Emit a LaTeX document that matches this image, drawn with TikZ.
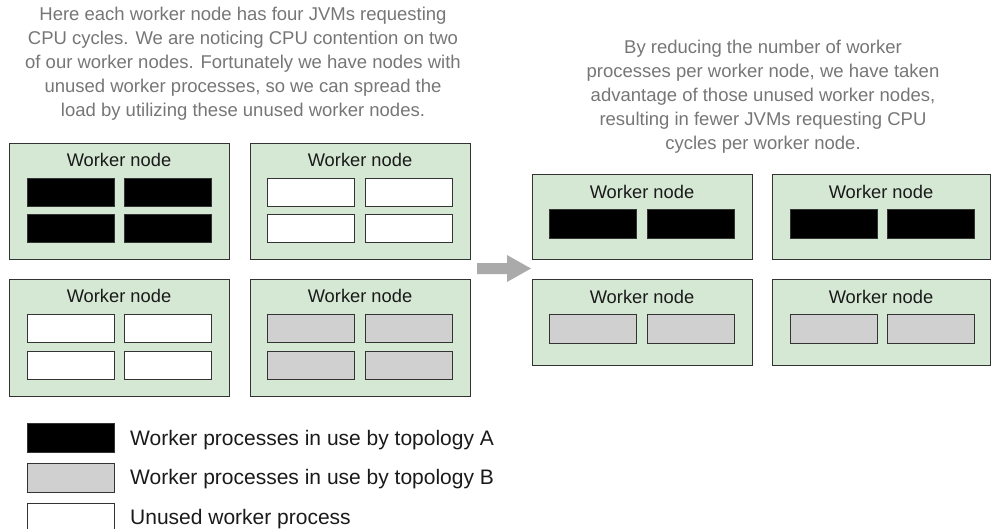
\documentclass[tikz,border=0pt]{standalone}
\usepackage{fontspec}
\setmainfont{Liberation Sans}
\usetikzlibrary{calc}
\definecolor{nodegreen}{HTML}{D5E8D4}
\definecolor{procgray}{HTML}{D0D0D0}
\definecolor{notegray}{HTML}{767676}
\definecolor{arrowgray}{HTML}{AAAAAA}
\definecolor{inkdark}{HTML}{1A1A1A}
\begin{document}
\begin{tikzpicture}[x=1pt,y=-1pt,
  wnode/.style={draw=black!80, fill=nodegreen, line width=1pt, anchor=north west, inner sep=0pt, outer sep=0pt, minimum width=220, minimum height=116},
  wlabel/.style={anchor=base, inner sep=0pt, text=inkdark, font=\fontsize{18.3}{22}\selectfont},
  proc/.style={draw=black!80, line width=1pt, anchor=north west, inner sep=0pt, outer sep=0pt, minimum width=87, minimum height=28.5},
  procA/.style={proc, fill=black},
  procB/.style={proc, fill=procgray},
  procU/.style={proc, fill=white},
  note/.style={anchor=north, inner sep=0pt, align=center, text=notegray, font=\fontsize{18.5}{24}\selectfont},
  legtext/.style={anchor=base west, inner sep=0pt, text=inkdark, font=\fontsize{21}{25}\selectfont}
]
\useasboundingbox (0,0) rectangle (991,528);

% notes
\node[note] (noteL) at (243,7.3) {Here each worker node has four JVMs requesting\\CPU cycles. We are noticing CPU contention on two\\of our worker nodes. Fortunately we have nodes with\\unused worker processes, so we can spread the\\load by utilizing these unused worker nodes.};
\node[note] (noteR) at (763,39.6) {By reducing the number of worker\\processes per worker node, we have taken\\advantage of those unused worker nodes,\\resulting in fewer JVMs requesting CPU\\cycles per worker node.};

% left worker nodes
\node[wnode] (w1) at (9,143) {};
\node[wnode] (w2) at (250,143) {};
\node[wnode, minimum height=117] (w3) at (9,279) {};
\node[wnode, minimum height=117] (w4) at (250,279) {};
\foreach \w in {w1,w2,w3,w4} {
  \node[wlabel] (\w t) at ($(\w.north)+(0,23.5)$) {Worker node};
}
\node[procA] (w1a) at ($(w1.north west)+(18,35)$) {};
\node[procA] (w1b) at ($(w1.north west)+(115,35)$) {};
\node[procA] (w1c) at ($(w1.north west)+(18,71)$) {};
\node[procA] (w1d) at ($(w1.north west)+(115,71)$) {};
\node[procU] (w2a) at ($(w2.north west)+(17,35)$) {};
\node[procU] (w2b) at ($(w2.north west)+(115,35)$) {};
\node[procU] (w2c) at ($(w2.north west)+(17,71)$) {};
\node[procU] (w2d) at ($(w2.north west)+(115,71)$) {};
\node[procU] (w3a) at ($(w3.north west)+(18,35)$) {};
\node[procU] (w3b) at ($(w3.north west)+(115,35)$) {};
\node[procU] (w3c) at ($(w3.north west)+(18,72)$) {};
\node[procU] (w3d) at ($(w3.north west)+(115,72)$) {};
\node[procB] (w4a) at ($(w4.north west)+(17,35)$) {};
\node[procB] (w4b) at ($(w4.north west)+(115,35)$) {};
\node[procB] (w4c) at ($(w4.north west)+(17,72)$) {};
\node[procB] (w4d) at ($(w4.north west)+(115,72)$) {};

% arrow
\fill[arrowgray] (477,263) -- (507,263) -- (507,255) -- (531,268.5) -- (507,282) -- (507,274) -- (477,274) -- cycle;

% right worker nodes
\node[wnode, minimum height=85] (r1) at (532,174) {};
\node[wnode, minimum height=85, minimum width=218] (r2) at (772,174) {};
\node[wnode, minimum height=86] (r3) at (532,279) {};
\node[wnode, minimum height=86, minimum width=218] (r4) at (772,279) {};
\foreach \w in {r1,r2,r3,r4} {
  \node[wlabel] (\w t) at ($(\w.north)+(0,24)$) {Worker node};
}
\node[procA, minimum height=29] (r1a) at ($(r1.north west)+(17,35)$) {};
\node[procA, minimum height=29] (r1b) at ($(r1.north west)+(115,35)$) {};
\node[procA, minimum height=29] (r2a) at ($(r2.north west)+(18,35)$) {};
\node[procA, minimum height=29] (r2b) at ($(r2.north west)+(115,35)$) {};
\node[procB, minimum height=29] (r3a) at ($(r3.north west)+(17,35)$) {};
\node[procB, minimum height=29] (r3b) at ($(r3.north west)+(115,35)$) {};
\node[procB, minimum height=29] (r4a) at ($(r4.north west)+(18,35)$) {};
\node[procB, minimum height=29] (r4b) at ($(r4.north west)+(115,35)$) {};

% legend
\node[procA, minimum height=29] (la) at (27,423) {};
\node[procB, minimum height=29] (lb) at (27,463) {};
\node[procU, minimum height=29] (lu) at (27,503) {};
\node[legtext] (lat) at (130,445) {Worker processes in use by topology A};
\node[legtext] (lbt) at (130,484) {Worker processes in use by topology B};
\node[legtext] (lut) at (130,524) {Unused worker process};
\end{tikzpicture}
\end{document}
